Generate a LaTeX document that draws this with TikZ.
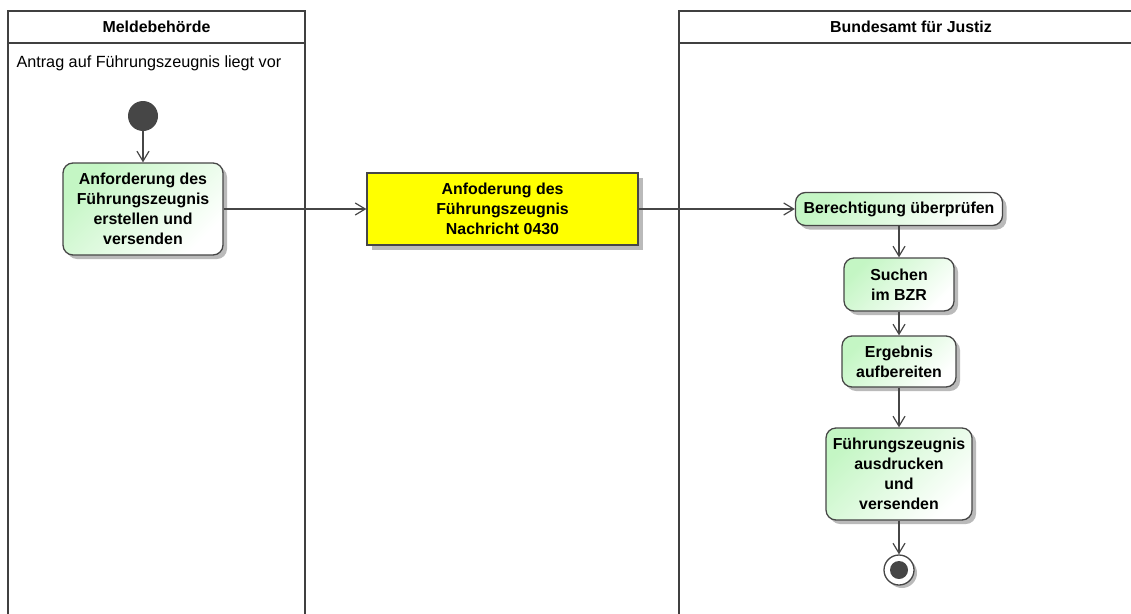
\documentclass[tikz,border=0pt]{standalone}
\usepackage{fontspec}
\setmainfont{Liberation Sans}
\usetikzlibrary{positioning, arrows.meta, shadows}
\definecolor{lanegray}{RGB}{64,64,64}
\definecolor{boxgray}{RGB}{70,70,70}
\definecolor{actgreen}{RGB}{196,246,196}
\definecolor{msgyellow}{RGB}{255,255,0}

\begin{document}
\begin{tikzpicture}[x=1pt, y=-1pt, font=\fontsize{15.9}{20}\selectfont\bfseries]
    \tikzset{
        lane/.style={draw=lanegray, line width=2.4pt},
        act/.style={rectangle, rounded corners=10pt, draw=boxgray, line width=1.3pt,
                    top color=actgreen, bottom color=white, shading angle=45,
                    align=center, inner sep=0pt,
                    drop shadow={shadow xshift=4pt, shadow yshift=-4pt, fill=black!45, opacity=.6}},
        msgbox/.style={rectangle, draw=boxgray, line width=1.2pt, fill=msgyellow,
                       align=center, inner sep=0pt,
                       drop shadow={shadow xshift=5pt, shadow yshift=-5pt, fill=black!45, opacity=.6}},
        arrow/.style={draw=boxgray, line width=1.2pt, -{Straight Barb[length=10pt,width=12pt]}}
    }
    \useasboundingbox (0,0) rectangle (1131,613);

    \draw[lane] (8,625) -- (8,11) -- (305,11) -- (305,625);
    \draw[lane] (8,43) -- (305,43);
    \draw[lane] (679,625) -- (679,11) -- (1140,11);
    \draw[lane] (679,43) -- (1140,43);
    \node (lane1) at (156.5,27) {Meldebehörde};
    \node (lane3) at (911,27) {Bundesamt für Justiz};
    \node[anchor=west, font=\fontsize{16.2}{20}\selectfont\mdseries] (trigger) at (13,63)
        {Antrag auf Führungszeugnis liegt vor};

    \node[circle, fill=boxgray, minimum size=30pt, inner sep=0pt] (start) at (143,116) {};
    \node[act, minimum width=160pt, minimum height=92pt] (req) at (143,209)
        {Anforderung des\\Führungszeugnis\\erstellen und\\versenden};
    \node[msgbox, minimum width=271pt, minimum height=72pt] (msg) at (502.5,209)
        {Anfoderung des\\Führungszeugnis\\Nachricht 0430};
    \node[act, minimum width=207pt, minimum height=33pt] (check) at (899,209)
        {Berechtigung überprüfen};
    \node[act, minimum width=110pt, minimum height=53pt] (search) at (899,284.5)
        {Suchen\\im BZR};
    \node[act, minimum width=114pt, minimum height=51pt] (result) at (899,361.5)
        {Ergebnis\\aufbereiten};
    \node[act, minimum width=146pt, minimum height=92pt] (print) at (899,474)
        {Führungszeugnis\\ausdrucken\\und\\versenden};
    \node[circle, draw=boxgray, line width=1.3pt, fill=white, minimum size=30pt, inner sep=0pt,
          drop shadow={shadow xshift=3pt, shadow yshift=-3pt, fill=black!45, opacity=.6}]
        (stop) at (899,570) {};
    \node[circle, fill=boxgray, minimum size=18pt, inner sep=0pt] (stopdot) at (stop) {};

    \draw[arrow] (start) -- (req);
    \draw[arrow] (req) -- (msg);
    \draw[arrow] (msg) -- (check);
    \draw[arrow] (check) -- (search);
    \draw[arrow] (search) -- (result);
    \draw[arrow] (result) -- (print);
    \draw[arrow] (print) -- (stop);
\end{tikzpicture}
\end{document}
